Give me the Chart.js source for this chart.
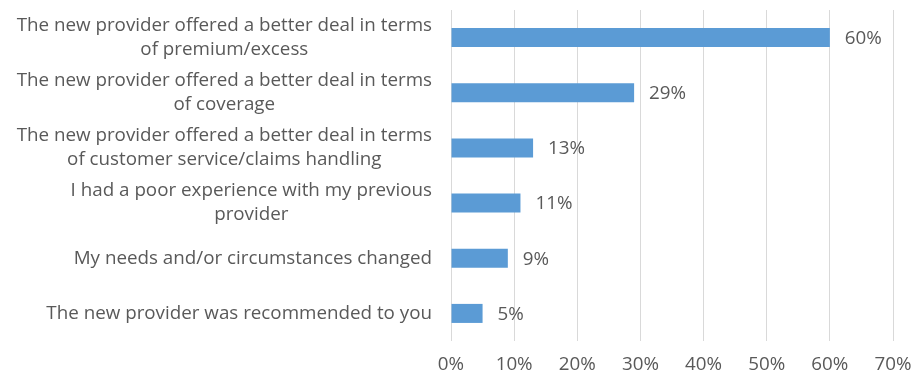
<!DOCTYPE html>
<html>
<head>
<meta charset="utf-8">
<script src="https://cdn.jsdelivr.net/npm/chart.js@4.4.1/dist/chart.umd.min.js"></script>
<style>
  html, body { margin: 0; padding: 0; background: #fff; }
  #wrap { width: 917px; height: 383px; }
</style>
</head>
<body>
<div id="wrap"><canvas id="reasons-chart"></canvas></div>
<script>
const categories = [
    ['The new provider offered a better deal in terms', 'of premium/excess'],
    ['The new provider offered a better deal in terms', 'of coverage'],
    ['The new provider offered a better deal in terms', 'of customer service/claims handling'],
    ['I had a poor experience with my previous', 'provider'],
    ['My needs and/or circumstances changed'],
    ['The new provider was recommended to you']
];
const shares = [60, 29, 13, 11, 9, 5];
const xTicks = [0, 10, 20, 30, 40, 50, 60, 70];

const TEXT_COLOR = '#595959';
const FONT_FAMILY = '"Open Sans", Lato, sans-serif';
const FONT_SIZE = 18.8;
const LINE_H = 24;

// category labels: each block centred on its widest line, block right-aligned to the axis
const categoryLabels = {
    id: 'categoryLabels',
    afterDraw(chart) {
        const ctx = chart.ctx;
        const yScale = chart.scales.y;
        ctx.save();
        ctx.font = FONT_SIZE + 'px ' + FONT_FAMILY;
        ctx.fillStyle = TEXT_COLOR;
        ctx.textAlign = 'center';
        ctx.textBaseline = 'middle';
        const right = yScale.right - 19;
        categories.forEach((lines, i) => {
            const widest = Math.max(...lines.map(l => ctx.measureText(l).width));
            const cx = right - widest / 2;
            const top = yScale.getPixelForTick(i) - (lines.length - 1) * LINE_H / 2;
            lines.forEach((l, j) => ctx.fillText(l, cx, top + j * LINE_H));
        });
        ctx.restore();
    }
};

// value labels just past the end of each bar
const valueLabels = {
    id: 'valueLabels',
    afterDatasetsDraw(chart) {
        const ctx = chart.ctx;
        const meta = chart.getDatasetMeta(0);
        ctx.save();
        ctx.font = FONT_SIZE + 'px ' + FONT_FAMILY;
        ctx.fillStyle = TEXT_COLOR;
        ctx.textAlign = 'left';
        ctx.textBaseline = 'middle';
        meta.data.forEach((bar, i) => {
            ctx.fillText(shares[i] + '%', bar.x + 15, bar.y + 1);
        });
        ctx.restore();
    }
};

new Chart(document.getElementById('reasons-chart'), {
    type: 'bar',
    data: {
        labels: categories,
        datasets: [{
            data: shares,
            backgroundColor: '#5B9BD5',
            borderWidth: 0,
            barPercentage: 0.345,
            categoryPercentage: 1
        }]
    },
    options: {
        indexAxis: 'y',
        responsive: true,
        maintainAspectRatio: false,
        animation: false,
        layout: { padding: { top: 10, right: 24, bottom: 0, left: 0 } },
        plugins: {
            legend: { display: false },
            tooltip: { enabled: false }
        },
        scales: {
            x: {
                min: 0,
                max: 70,
                afterBuildTicks: (scale) => { scale.ticks = xTicks.map(v => ({ value: v })); },
                afterFit: (scale) => {
                    scale.height = 42;
                    scale.paddingLeft = 0;
                    scale.paddingRight = 0;
                },
                grid: { color: '#d9d9d9', drawTicks: false },
                border: { display: false },
                ticks: {
                    padding: 12,
                    color: TEXT_COLOR,
                    font: { family: FONT_FAMILY, size: FONT_SIZE },
                    callback: (v) => v + '%'
                }
            },
            y: {
                afterFit: (scale) => { scale.width = 451; },
                grid: { display: false },
                border: { display: false },
                ticks: { display: false }
            }
        }
    },
    plugins: [categoryLabels, valueLabels]
});
</script>
</body>
</html>
